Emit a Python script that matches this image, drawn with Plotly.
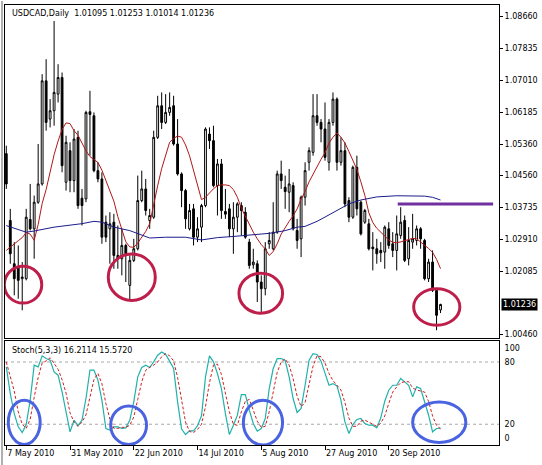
import pandas as pd
import plotly.graph_objects as go

# ---------------- data ----------------
symbol_title = "USDCAD,Daily  1.01095 1.01253 1.01014 1.01236"
stoch_title = "Stoch(5,3,3) 16.2114 15.5720"

dates = pd.bdate_range("2010-05-07", periods=110)

opens = [1.05126, 1.03401, 1.02286, 1.02200, 1.01900, 1.01900, 1.03427, 1.03187, 1.03873, 1.04345,
         1.07005, 1.06018, 1.06233, 1.06662, 1.07091, 1.04388, 1.05203, 1.04431, 1.05546, 1.03976,
         1.03959, 1.06207, 1.06104, 1.04688, 1.04474, 1.03358, 1.03187, 1.03358, 1.02500, 1.02415,
         1.02758, 1.01728, 1.02372, 1.02672, 1.03916, 1.04216, 1.03401, 1.03487, 1.05546, 1.06361,
         1.05932, 1.06190, 1.06361, 1.05375, 1.04603, 1.04173, 1.03187, 1.03702, 1.02972, 1.03230,
         1.03787, 1.05632, 1.05461, 1.04302, 1.04860, 1.03633, 1.03702, 1.03187, 1.03487, 1.03787,
         1.03616, 1.02844, 1.02260, 1.02286, 1.01814, 1.01642, 1.02801, 1.02672, 1.03101, 1.04603,
         1.04259, 1.04131, 1.04302, 1.03144, 1.02929, 1.04002, 1.04903, 1.05160, 1.06104, 1.05932,
         1.05761, 1.04903, 1.05932, 1.06533, 1.04903, 1.05203, 1.03916, 1.03487, 1.04774, 1.03873,
         1.03358, 1.03316, 1.02715, 1.02672, 1.02629, 1.02586, 1.03187, 1.02801, 1.02629, 1.03015,
         1.03401, 1.02415, 1.02844, 1.02887, 1.03187, 1.02887, 1.01900, 1.02329, 1.01599, 1.01095]
highs = [1.05332, 1.03702, 1.02844, 1.02758, 1.02329, 1.03702, 1.04345, 1.04045, 1.05375, 1.07177,
         1.07563, 1.06533, 1.08549, 1.07434, 1.07219, 1.05589, 1.05418, 1.05761, 1.05718, 1.04216,
         1.06233, 1.06747, 1.06190, 1.04903, 1.04645, 1.03530, 1.03616, 1.03573, 1.03273, 1.03187,
         1.02801, 1.02500, 1.02929, 1.04560, 1.04688, 1.04474, 1.03702, 1.05718, 1.06619, 1.06705,
         1.06662, 1.06705, 1.06619, 1.06018, 1.04645, 1.04216, 1.03830, 1.03830, 1.03487, 1.03830,
         1.05804, 1.05804, 1.05847, 1.04989, 1.04989, 1.04216, 1.03830, 1.03873, 1.03873, 1.03873,
         1.03745, 1.02929, 1.02672, 1.02372, 1.01986, 1.02844, 1.03101, 1.03873, 1.04688, 1.04946,
         1.04560, 1.04731, 1.04388, 1.03444, 1.04045, 1.04903, 1.05289, 1.06662, 1.06662, 1.06018,
         1.06447, 1.06018, 1.06705, 1.06576, 1.05546, 1.05418, 1.04002, 1.04817, 1.05074, 1.03916,
         1.03702, 1.03444, 1.03101, 1.02929, 1.02844, 1.03273, 1.03358, 1.03101, 1.03530, 1.03745,
         1.03530, 1.03230, 1.03573, 1.03273, 1.03230, 1.02929, 1.02415, 1.02629, 1.01642, 1.01253]
lows = [1.04216, 1.02286, 1.01471, 1.01385, 1.01085, 1.01857, 1.03144, 1.02415, 1.03830, 1.04302,
        1.05718, 1.05804, 1.05847, 1.06447, 1.04645, 1.04173, 1.04131, 1.04131, 1.03702, 1.03273,
        1.03873, 1.05074, 1.04645, 1.04388, 1.02801, 1.02844, 1.02286, 1.02157, 1.02157, 1.01986,
        1.01814, 1.01342, 1.02329, 1.02629, 1.03873, 1.03530, 1.03187, 1.03444, 1.05503, 1.05761,
        1.05890, 1.06104, 1.05332, 1.04560, 1.03745, 1.03187, 1.03144, 1.02758, 1.02844, 1.02844,
        1.03745, 1.05246, 1.04259, 1.03530, 1.03444, 1.03444, 1.02972, 1.02543, 1.03101, 1.03015,
        1.02929, 1.02157, 1.02157, 1.01299, 1.01042, 1.01471, 1.02672, 1.02629, 1.03058, 1.04216,
        1.03702, 1.03616, 1.03144, 1.02672, 1.02458, 1.03787, 1.04688, 1.05074, 1.05847, 1.05418,
        1.04946, 1.04688, 1.05847, 1.04688, 1.04817, 1.03745, 1.03358, 1.03444, 1.03530, 1.03015,
        1.03316, 1.02629, 1.02114, 1.02286, 1.02329, 1.02157, 1.02672, 1.02458, 1.02114, 1.02929,
        1.02329, 1.02243, 1.02672, 1.02758, 1.02672, 1.01857, 1.01814, 1.01557, 1.00570, 1.01014]
closes = [1.04345, 1.02543, 1.01900, 1.01857, 1.01943, 1.03487, 1.03187, 1.03873, 1.04345, 1.07005,
          1.05932, 1.06233, 1.06705, 1.07091, 1.04817, 1.05418, 1.04431, 1.05503, 1.03787, 1.03787,
          1.06190, 1.06138, 1.04688, 1.04474, 1.02972, 1.02972, 1.03316, 1.02500, 1.02415, 1.02758,
          1.02500, 1.02372, 1.02672, 1.03916, 1.04216, 1.03659, 1.03530, 1.05546, 1.06361, 1.05932,
          1.06190, 1.06319, 1.05375, 1.04603, 1.04173, 1.03444, 1.03659, 1.02972, 1.03187, 1.03787,
          1.05761, 1.05461, 1.04302, 1.04860, 1.03659, 1.03565, 1.03187, 1.03487, 1.03830, 1.03659,
          1.02972, 1.02243, 1.02329, 1.01814, 1.01642, 1.02672, 1.02887, 1.03101, 1.04603, 1.04431,
          1.04148, 1.04345, 1.03187, 1.02887, 1.04002, 1.04688, 1.05203, 1.06104, 1.05932, 1.05761,
          1.05031, 1.05932, 1.06533, 1.04903, 1.05203, 1.03830, 1.03487, 1.04774, 1.03702, 1.03058,
          1.03659, 1.02672, 1.02672, 1.02543, 1.02569, 1.03230, 1.02758, 1.02629, 1.03058, 1.03358,
          1.02372, 1.02887, 1.02929, 1.03187, 1.02929, 1.01900, 1.02329, 1.01599, 1.00956, 1.01236]

ma_fast = [1.0263, 1.0272, 1.0280, 1.0288, 1.0296, 1.0309, 1.0305, 1.0289, 1.0330, 1.0384,
           1.0420, 1.0465, 1.0510, 1.0545, 1.0575, 1.0592, 1.0590, 1.0572, 1.0560, 1.0540,
           1.0520, 1.0505, 1.0498, 1.0490, 1.0470, 1.0445, 1.0420, 1.0390, 1.0350, 1.0320,
           1.0285, 1.0272, 1.0271, 1.0282, 1.0297, 1.0312, 1.0332, 1.0385, 1.0430, 1.0474,
           1.0510, 1.0542, 1.0552, 1.0558, 1.0555, 1.0535, 1.0507, 1.0470, 1.0430, 1.0394,
           1.0400, 1.0412, 1.0422, 1.0430, 1.0432, 1.0432, 1.0430, 1.0420, 1.0400, 1.0372,
           1.0350, 1.0330, 1.0310, 1.0293, 1.0278, 1.0267, 1.0250, 1.0260, 1.0280, 1.0305,
           1.0322, 1.0338, 1.0352, 1.0370, 1.0395, 1.0415, 1.0440, 1.0460, 1.0480, 1.0498,
           1.0515, 1.0540, 1.0555, 1.0566, 1.0555, 1.0540, 1.0518, 1.0495, 1.0472, 1.0440,
           1.0405, 1.0360, 1.0335, 1.0320, 1.0310, 1.0302, 1.0290, 1.0284, 1.0283, 1.0285,
           1.0288, 1.0293, 1.0294, 1.0293, 1.0285, 1.0276, 1.0268, 1.0258, 1.0240, 1.0216]

ma_slow_bar = [0, 5, 7, 12, 19, 22, 24, 27, 31, 36, 40, 45, 49, 53, 57, 62, 66, 70, 73, 75,
               78, 80, 83, 85, 86, 89, 93, 98, 102, 105, 107, 109]
ma_slow = [1.0327, 1.0310, 1.0313, 1.0323, 1.0332, 1.0338, 1.0336, 1.0323, 1.0314, 1.0295,
           1.0297, 1.0297, 1.0290, 1.0296, 1.0299, 1.0303, 1.0307, 1.0314, 1.0323, 1.0325,
           1.0338, 1.0349, 1.0366, 1.0379, 1.0383, 1.0393, 1.0401, 1.0404, 1.0404, 1.0403,
           1.0400, 1.0393]

stoch_k = [75.3, 49.6, 30.3, 17.5, 12.0, 19.7, 43.2, 76.9, 75.3, 85.9,
           83.3, 81.7, 70.5, 67.3, 51.2, 30.3, 12.7, 23.9, 18.5, 23.9,
           44.8, 72.1, 72.1, 62.5, 43.2, 15.9, 14.3, 17.5, 17.5, 15.9,
           16.5, 23.9, 41.6, 65.7, 74.7, 76.9, 74.7, 80.1, 86.5, 89.7,
           87.2, 80.8, 73.7, 41.6, 15.3, 10.1, 13.6, 13.6, 18.5, 28.1,
           65.7, 85.9, 80.1, 68.9, 54.4, 30.3, 10.1, 19.1, 28.7, 48.6,
           48.6, 33.6, 20.7, 13.3, 15.9, 25.5, 54.4, 73.7, 83.3, 83.3,
           81.4, 65.7, 44.8, 31.3, 35.2, 57.6, 81.7, 88.1, 87.2, 80.8,
           69.8, 57.6, 59.2, 57.0, 43.2, 22.3, 11.1, 19.7, 24.6, 25.5,
           20.7, 19.1, 19.1, 16.5, 26.2, 42.2, 52.8, 57.6, 57.6, 64.1,
           60.8, 57.6, 46.4, 56.0, 54.4, 41.6, 28.7, 12.7, 15.9, 16.2114]
stoch_d = [80.0, 65.0, 52.0, 32.0, 20.0, 16.0, 25.0, 46.0, 65.0, 79.0,
           81.0, 84.0, 78.0, 73.0, 63.0, 50.0, 31.0, 22.0, 18.0, 22.0,
           29.0, 47.0, 63.0, 69.0, 59.0, 40.0, 25.0, 16.0, 16.0, 17.0,
           17.0, 19.0, 27.0, 44.0, 61.0, 72.0, 75.0, 77.0, 80.0, 85.0,
           88.0, 86.0, 81.0, 65.0, 44.0, 22.0, 13.0, 12.0, 15.0, 20.0,
           37.0, 60.0, 77.0, 78.0, 68.0, 51.0, 32.0, 20.0, 19.0, 32.0,
           42.0, 44.0, 34.0, 23.0, 17.0, 18.0, 32.0, 51.0, 70.0, 80.0,
           83.0, 77.0, 64.0, 47.0, 37.0, 41.0, 58.0, 76.0, 86.0, 85.0,
           79.0, 69.0, 62.0, 58.0, 53.0, 41.0, 26.0, 18.0, 18.0, 23.0,
           24.0, 22.0, 20.0, 18.0, 21.0, 28.0, 40.0, 51.0, 56.0, 60.0,
           61.0, 61.0, 55.0, 53.0, 52.0, 51.0, 42.0, 28.0, 19.0, 15.572]

price_ticks = [1.08660, 1.07835, 1.07010, 1.06185, 1.05360, 1.04560,
               1.03735, 1.02910, 1.02085, 1.00460]
last_price = 1.01236
resistance_level = 1.0383
stoch_levels = [80, 20]
stoch_tick_text = ["100", "80", "20", "0"]
date_label_step = 16

# ---------------- layout geometry (pixels) ----------------
W, H = 542, 465
ML, MR, MT, MB = 4, 42, 4, 20
PW, PH = W - ML - MR, H - MT - MB


def fx(px):
    return (px - ML) / PW


def fy(py):
    return (H - MB - py) / PH


bars = list(range(len(dates)))
FONT = "DejaVu Sans"
FS = 8

fig = go.Figure()

fig.add_trace(go.Candlestick(
    x=bars, open=opens, high=highs, low=lows, close=closes,
    xaxis="x", yaxis="y",
    increasing=dict(line=dict(color="black", width=1), fillcolor="white"),
    decreasing=dict(line=dict(color="black", width=1), fillcolor="black"),
    whiskerwidth=0, showlegend=False, hoverinfo="skip"))

fig.add_trace(go.Scatter(x=bars, y=ma_fast, mode="lines", xaxis="x", yaxis="y",
                         line=dict(color="#B01818", width=1), showlegend=False,
                         hoverinfo="skip"))
fig.add_trace(go.Scatter(x=ma_slow_bar, y=ma_slow, mode="lines", xaxis="x", yaxis="y",
                         line=dict(color="#1C1C8C", width=1), showlegend=False,
                         hoverinfo="skip"))

fig.add_trace(go.Scatter(x=bars, y=stoch_k, mode="lines", xaxis="x2", yaxis="y2",
                         line=dict(color="#20B2AA", width=1.2), showlegend=False,
                         hoverinfo="skip"))
fig.add_trace(go.Scatter(x=bars, y=stoch_d, mode="lines", xaxis="x2", yaxis="y2",
                         line=dict(color="#D02020", width=1, dash="3px,2px"),
                         showlegend=False, hoverinfo="skip"))

x_range = [-0.325, 123.675]
tick_bars = bars[::date_label_step]
tick_text = [f"{d.day} {d.strftime('%b %Y')}" for d in dates[::date_label_step]]

axis_font = dict(family=FONT, size=FS, color="black")

shapes = []
for lv in stoch_levels:
    shapes.append(dict(type="line", xref="x2 domain", yref="y2", x0=0, x1=1, y0=lv, y1=lv,
                       line=dict(color="#A8A8A8", width=1, dash="3px,3px"), layer="below"))
shapes.append(dict(type="line", xref="x", yref="y", x0=98.25, x1=122.2,
                   y0=resistance_level, y1=resistance_level,
                   line=dict(color="#7030A0", width=3)))
red = "#BE1E4A"
for (x0, x1, y0, y1) in [(-0.5, 8.9, 1.0127, 1.0222), (25.6, 37.4, 1.0134, 1.0254),
                         (58.4, 69.35, 1.0101, 1.0204), (102.25, 113.85, 1.0070, 1.0164)]:
    shapes.append(dict(type="circle", xref="x", yref="y", x0=x0, x1=x1, y0=y0, y1=y1,
                       line=dict(color=red, width=3)))
blue = "#4A63E0"
for (x0, x1, y0, y1) in [(0.5, 8.5, 0.5, 43.2), (26.2, 35.2, 0.5, 37.7),
                         (59.5, 69.35, 0.0, 43.2), (102.0, 115.35, 2.4, 41.5)]:
    shapes.append(dict(type="circle", xref="x2", yref="y2", x0=x0, x1=x1, y0=y0, y1=y1,
                       line=dict(color=blue, width=3)))
shapes.append(dict(type="line", xref="paper", yref="paper",
                   x0=fx(1), x1=fx(1), y0=fy(0), y1=fy(H),
                   line=dict(color="#B0B0B0", width=2)))

annotations = [
    dict(text=symbol_title, xref="paper", yref="paper", x=fx(9), y=fy(12.5),
         xanchor="left", yanchor="middle", showarrow=False,
         font=dict(family=FONT, size=FS, color="black")),
    dict(text=stoch_title, xref="paper", yref="paper", x=fx(9), y=fy(350.5),
         xanchor="left", yanchor="middle", showarrow=False,
         font=dict(family=FONT, size=FS, color="black")),
    dict(text=f"{last_price:.5f}", xref="paper", yref="y", x=fx(502), y=last_price,
         xanchor="left", yanchor="middle", showarrow=False, bgcolor="black",
         borderpad=1, font=dict(family=FONT, size=FS, color="white")),
]

fig.update_layout(
    width=W, height=H,
    margin=dict(l=ML, r=MR, t=MT, b=MB, pad=0),
    paper_bgcolor="white", plot_bgcolor="white",
    showlegend=False,
    boxgap=0.35,
    xaxis=dict(domain=[0, 1], anchor="y", range=x_range, showticklabels=False,
               ticks="", showgrid=False, zeroline=False, showline=True, mirror=True,
               linecolor="black", linewidth=1, rangeslider=dict(visible=False)),
    yaxis=dict(domain=[fy(338), 1], anchor="x", side="right", range=[1.00364, 1.08961],
               tickvals=price_ticks, ticktext=[f"{v:.5f}" for v in price_ticks],
               ticks="outside", ticklen=3, tickcolor="black", tickfont=axis_font,
               showgrid=False, zeroline=False, showline=True, mirror=True,
               linecolor="black", linewidth=1),
    xaxis2=dict(domain=[0, 1], anchor="y2", range=x_range, matches="x",
                tickvals=tick_bars, ticktext=tick_text, ticks="outside", ticklen=4,
                tickcolor="black", tickfont=axis_font, ticklabelposition="outside right",
                showgrid=False, zeroline=False, showline=True, mirror=True,
                linecolor="black", linewidth=1),
    yaxis2=dict(domain=[0, fy(341)], anchor="x2", side="right", range=[0, 100],
                tickvals=[93.5, 80, 20, 6.3], ticktext=stoch_tick_text,
                ticks="", ticklabelstandoff=3, tickfont=axis_font,
                showgrid=False, zeroline=False, showline=True, mirror=True,
                linecolor="black", linewidth=1),
    shapes=shapes,
    annotations=annotations,
)

fig.write_html("out.html", config={"displayModeBar": False},
               post_script="document.body.style.margin='0px';document.body.style.padding='0px';")
